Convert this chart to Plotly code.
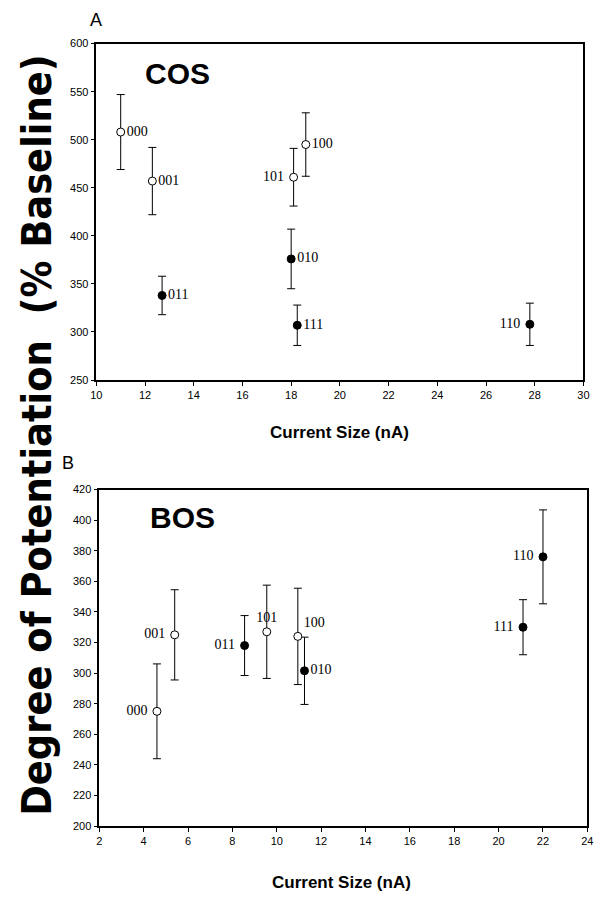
import plotly.graph_objects as go

# panel A (COS)
cos_labels = ['000', '001', '011', '101', '100', '010', '111', '110']
cos_x = [11.0, 12.3, 12.7, 18.1, 18.6, 18.0, 18.25, 27.8]
cos_y = [508, 457, 338, 461, 495, 376, 307, 308]
cos_err = [39, 35, 20, 30, 33, 31, 21, 22]
cos_open = [True, True, False, True, True, False, False, False]
cos_pos = ['middle right', 'middle right', 'middle right', 'middle left',
           'middle right', 'middle right', 'middle right', 'middle left']

# panel B (BOS)
bos_labels = ['000', '001', '011', '101', '100', '010', '111', '110']
bos_x = [4.6, 5.4, 8.55, 9.55, 10.95, 11.25, 21.1, 22.0]
bos_y = [275, 325, 318, 327, 324, 301.5, 330, 376]
bos_err = [31, 29.5, 19.6, 30.5, 31.5, 22, 18, 30.7]
bos_open = [True, True, False, True, True, False, False, False]
bos_pos = ['middle left', 'middle left', 'middle left', 'top center',
           'top right', 'middle right', 'middle left', 'middle left']

W, H = 603, 899
OFF = 8  # page body margin shifts the figure by 8px

def fx(v):
    return (v - OFF) / W

def fy(v):
    return 1 - (v - OFF) / H

fig = go.Figure()

def add_panel(xs, ys, errs, opens, labels, positions, xa, ya):
    fig.add_trace(go.Scatter(
        x=xs, y=ys, mode='markers+text', xaxis=xa, yaxis=ya,
        text=[l + ' ' if p.endswith('left') else l for l, p in zip(labels, positions)],
        textposition=positions,
        textfont=dict(family='Liberation Serif', size=14, color='black'),
        error_y=dict(type='data', array=errs, visible=True, color='black',
                     thickness=1, width=4),
        marker=dict(size=8, symbol='circle',
                    color=['white' if o else 'black' for o in opens],
                    line=dict(color='black', width=1)),
        showlegend=False, cliponaxis=False))

add_panel(cos_x, cos_y, cos_err, cos_open, cos_labels, cos_pos, 'x', 'y')
add_panel(bos_x, bos_y, bos_err, bos_open, bos_labels, bos_pos, 'x2', 'y2')

axis_style = dict(showline=True, mirror=True, linecolor='black', linewidth=1.5,
                  ticks='outside', ticklen=4, tickcolor='black', showgrid=False,
                  zeroline=False,
                  tickfont=dict(family='Liberation Sans', size=11, color='black'))

fig.update_layout(
    width=W, height=H,
    margin=dict(l=0, r=0, t=0, b=0),
    paper_bgcolor='white', plot_bgcolor='white',
    xaxis=dict(domain=[fx(92), fx(589)], range=[10, 30], dtick=2,
               anchor='y', **axis_style),
    yaxis=dict(domain=[fy(379), fy(38)], range=[250, 600], dtick=50,
               anchor='x', **axis_style),
    xaxis2=dict(domain=[fx(95), fx(593)], range=[2, 24], dtick=2,
                anchor='y2', **axis_style),
    yaxis2=dict(domain=[fy(831), fy(490)], range=[200, 420], dtick=20,
                anchor='x2', **axis_style),
)

def note(text, x, y, size, family='Liberation Sans', bold=True, angle=0):
    fig.add_annotation(text='<b>%s</b>' % text if bold else text,
                       x=fx(x), y=fy(y), xref='paper', yref='paper',
                       xanchor='center', yanchor='middle',
                       showarrow=False, textangle=angle,
                       font=dict(family=family, size=size, color='black'))

note('COS', 175, 68, 30)
note('BOS', 180, 518, 30)
note('A', 92, 14, 18, bold=False)
note('B', 63, 463, 18, bold=False)
note('Current Size (nA)', 340, 432, 17)
note('Current Size (nA)', 342, 888, 17)
note('Degree of Potentiation  (% Baseline)', 32, 435, 41,
     family='DejaVu Sans Condensed', angle=-90)

fig.write_html("out.html")
